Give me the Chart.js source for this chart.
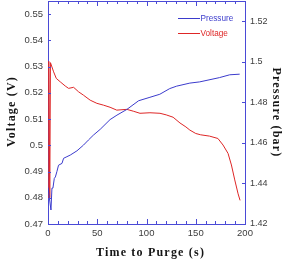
<!DOCTYPE html>
<html>
<head>
<meta charset="utf-8">
<script src="https://cdn.jsdelivr.net/npm/chart.js@4.4.0/dist/chart.umd.min.js"></script>
<style>
    html, body { margin: 0; padding: 0; background: #fff; }
    #wrap { width: 290px; height: 267px; position: relative; }
</style>
</head>
<body>
<div id="wrap"><canvas id="chart"></canvas></div>
<script>
/* =====================================================
   DATA
===================================================== */

const pressureTime = [0, 3, 4, 5, 6.4, 7.5, 9, 10.7, 14.2, 15.8, 19.2, 22.6, 29.4, 36, 41, 46,
    53, 63, 70, 80, 92, 103.5, 113.5, 123.6, 130.6, 144, 154, 174, 184.5, 194.6];
const pressureValues = [1.438, 1.4269, 1.4377, 1.4377, 1.4425, 1.4432, 1.4458, 1.449, 1.4499, 1.4524,
    1.4532, 1.454, 1.4561, 1.4589, 1.4614, 1.4638, 1.4667, 1.4715, 1.4737, 1.4765, 1.4808, 1.4825,
    1.484, 1.4868, 1.488, 1.4895, 1.4901, 1.4922, 1.4936, 1.4939];

const voltageTime = [0, 0.8, 1.8, 2.5, 5.7, 8.4, 12.4, 17.5, 20.9, 26, 31, 36, 42.8, 49.6, 56.3, 63,
    69.8, 80, 86.6, 93.4, 103.5, 113.7, 120, 127, 134, 140, 144, 150, 155, 164, 172.5, 177.7,
    182.8, 186.2, 189.6, 193, 195];
const voltageValues = [0.48, 0.532, 0.48, 0.5315, 0.528, 0.5255, 0.5242, 0.5226, 0.5217, 0.5221,
    0.5204, 0.5191, 0.5172, 0.516, 0.5153, 0.5145, 0.5134, 0.5137, 0.513, 0.5122, 0.5124, 0.5122,
    0.5116, 0.5107, 0.5085, 0.507, 0.5058, 0.5045, 0.504, 0.5035, 0.5026, 0.5001, 0.4969, 0.4925,
    0.4868, 0.4815, 0.479];

const seriesLabels = ["Pressure", "Voltage"];

const timeTicks = [0, 50, 100, 150, 200];
const voltageTicks = [0.47, 0.48, 0.49, 0.5, 0.51, 0.52, 0.53, 0.54, 0.55];
const pressureTicks = [1.42, 1.44, 1.46, 1.48, 1.5, 1.52];

const xTitle = "Time to Purge (s)";
const voltageTitle = "Voltage (V)";
const pressureTitle = "Pressure (bar)";


/* =====================================================
   STYLE
===================================================== */

const BLUE = "#3b3bcc";
const RED = "#de2626";
const FRAME = "#4a4ad6";
const TICK_TEXT = "#3c3c3c";
const tickFont = { family: "Liberation Sans", size: 9.5 };

const fmt = v => String(+v.toFixed(2));


/* =====================================================
   PLUGINS
===================================================== */

// top frame line + inward tick marks
const framePlugin = {
    id: "frame",
    afterDraw(chart) {
        const { ctx, chartArea: a, scales } = chart;
        ctx.save();
        ctx.strokeStyle = FRAME;
        ctx.lineWidth = 1;
        ctx.beginPath();
        ctx.moveTo(a.left, a.top + 0.5);
        ctx.lineTo(a.right, a.top + 0.5);

        for (let t = 0; t <= 200; t += 10) {
            const x = Math.round(scales.x.getPixelForValue(t)) + 0.5;
            const len = t % 50 === 0 ? 5 : 3;
            ctx.moveTo(x, a.bottom);
            ctx.lineTo(x, a.bottom - len);
            ctx.moveTo(x, a.top);
            ctx.lineTo(x, a.top + len);
        }
        voltageTicks.forEach(v => {
            const y = Math.round(scales.yV.getPixelForValue(v)) + 0.5;
            ctx.moveTo(a.left, y);
            ctx.lineTo(a.left + 3, y);
        });
        pressureTicks.forEach(v => {
            const y = Math.round(scales.yP.getPixelForValue(v)) + 0.5;
            ctx.moveTo(a.right, y);
            ctx.lineTo(a.right - 3, y);
        });
        ctx.stroke();
        ctx.restore();
    }
};

// axis titles (bold serif, spaced letters) and the in-plot legend
const textPlugin = {
    id: "texts",
    afterDraw(chart) {
        const { ctx, chartArea: a } = chart;
        ctx.save();
        ctx.font = 'bold 12px "Liberation Serif"';
        ctx.letterSpacing = "1.2px";
        ctx.fillStyle = "#151515";
        ctx.textAlign = "center";
        ctx.textBaseline = "middle";

        ctx.fillText(xTitle, (a.left + a.right) / 2 + 4, a.bottom + 29);

        ctx.save();
        ctx.translate(12, (a.top + a.bottom) / 2 - 1);
        ctx.rotate(-Math.PI / 2);
        ctx.fillText(voltageTitle, 0, 0);
        ctx.restore();

        ctx.save();
        ctx.translate(276, (a.top + a.bottom) / 2);
        ctx.rotate(Math.PI / 2);
        ctx.fillText(pressureTitle, 0, 0);
        ctx.restore();

        // legend
        ctx.letterSpacing = "0px";
        ctx.font = '8.2px "Liberation Sans"';
        ctx.textAlign = "left";
        chart.data.datasets.forEach((ds, i) => {
            const y = Math.round(a.top + 17 + 15 * i) + 0.5;
            ctx.strokeStyle = ds.borderColor;
            ctx.lineWidth = 1;
            ctx.beginPath();
            ctx.moveTo(a.right - 67, y);
            ctx.lineTo(a.right - 45, y);
            ctx.stroke();
            ctx.fillStyle = ds.borderColor;
            ctx.fillText(ds.label, a.right - 44.5, y);
        });
        ctx.restore();
    }
};


/* =====================================================
   CHART
===================================================== */

const toPoints = (xs, ys) => xs.map((x, i) => ({ x, y: ys[i] }));

new Chart(document.getElementById("chart"), {
    type: "line",
    data: {
        datasets: [
            {
                label: seriesLabels[0],
                data: toPoints(pressureTime, pressureValues),
                yAxisID: "yP",
                borderColor: BLUE,
                borderWidth: 1,
                pointRadius: 0,
                tension: 0
            },
            {
                label: seriesLabels[1],
                data: toPoints(voltageTime, voltageValues),
                yAxisID: "yV",
                borderColor: RED,
                borderWidth: 1,
                pointRadius: 0,
                tension: 0
            }
        ]
    },
    options: {
        responsive: true,
        maintainAspectRatio: false,
        animation: false,
        devicePixelRatio: 1,
        layout: { padding: { top: 1, left: 0, right: 0, bottom: 0 } },
        plugins: {
            legend: { display: false },
            tooltip: { enabled: false }
        },
        scales: {
            x: {
                type: "linear",
                position: "bottom",
                min: 0,
                max: 200,
                afterBuildTicks: s => { s.ticks = timeTicks.map(v => ({ value: v })); },
                afterFit: s => { s.height = 43; s.paddingLeft = 0; s.paddingRight = 0; },
                ticks: {
                    callback: v => fmt(v),
                    font: tickFont,
                    color: TICK_TEXT,
                    padding: 4,
                    maxRotation: 0,
                    autoSkip: false
                },
                grid: { display: false, drawTicks: false },
                border: { color: FRAME, width: 1 }
            },
            yV: {
                type: "linear",
                position: "left",
                min: 0.47,
                max: 0.555,
                afterBuildTicks: s => { s.ticks = voltageTicks.map(v => ({ value: v })); },
                afterFit: s => { s.width = 48; s.paddingTop = 0; s.paddingBottom = 0; },
                ticks: {
                    callback: v => fmt(v),
                    font: tickFont,
                    color: TICK_TEXT,
                    padding: 5
                },
                grid: { display: false, drawTicks: false },
                border: { color: FRAME, width: 1 }
            },
            yP: {
                type: "linear",
                position: "right",
                min: 1.42,
                max: 1.53,
                afterBuildTicks: s => { s.ticks = pressureTicks.map(v => ({ value: v })); },
                afterFit: s => { s.width = 45; s.paddingTop = 0; s.paddingBottom = 0; },
                ticks: {
                    callback: v => fmt(v),
                    font: { family: "Liberation Sans", size: 9 },
                    color: TICK_TEXT,
                    padding: 5
                },
                grid: { display: false, drawTicks: false },
                border: { color: FRAME, width: 1 }
            }
        }
    },
    plugins: [framePlugin, textPlugin]
});
</script>
</body>
</html>
